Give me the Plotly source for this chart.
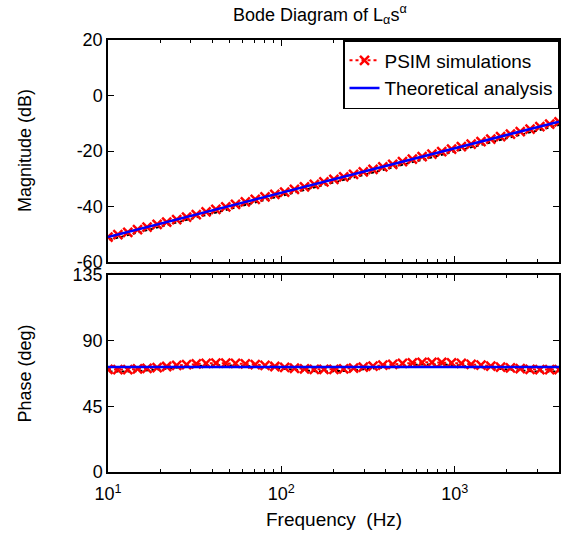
import plotly.graph_objects as go

# ---------------- data ----------------
freq_psim = [10, 11.4, 13.0, 14.8, 16.8, 19.2, 21.8, 24.9, 28.4, 32.3,
             36.8, 41.9, 47.8, 54.4, 62.0, 70.7, 80.5, 91.7, 104.5, 119,
             136, 155, 176, 201, 229, 261, 297, 338, 385, 439,
             500, 570, 649, 739, 842, 960, 1093, 1245, 1419, 1616,
             1841, 2098, 2390, 2723, 3102, 3534, 4000]
mag_psim = [-51.0, -50.1, -49.3, -48.3, -47.4, -46.4, -45.6, -44.7, -43.8, -42.9,
            -41.9, -41.0, -40.1, -39.2, -38.3, -37.4, -36.5, -35.6, -34.8, -33.8,
            -32.9, -32.0, -31.1, -30.2, -29.3, -28.4, -27.5, -26.6, -25.7, -24.8,
            -23.8, -22.9, -22.0, -21.1, -20.2, -19.3, -18.4, -17.5, -16.6, -15.7,
            -14.8, -13.9, -13.0, -12.1, -11.2, -10.3, -9.5]
phase_psim = [70.3, 70.1, 70.2, 70.6, 71.0, 71.6, 72.3, 73.0, 73.6, 74.1,
              74.4, 74.6, 74.6, 74.4, 74.1, 73.6, 73.0, 72.3, 71.7, 71.1,
              70.7, 70.4, 70.3, 70.4, 70.7, 71.2, 71.8, 72.5, 73.2, 73.8,
              74.4, 74.8, 75.1, 75.2, 75.1, 74.8, 74.4, 73.8, 73.2, 72.5,
              71.9, 71.3, 70.8, 70.4, 70.2, 70.1, 70.2]

freq_theory = [10, 4000]
mag_theory = [-51.0, -9.4]
phase_theory = [72.0, 72.0]

# shadow (black dotted) series offsets
shadow_freq_factor = 1.02
shadow_mag_offset = -1.0
shadow_phase_offset = -1.4

mag_ticks = [-60, -40, -20, 0, 20]
mag_tick_labels = ["-60", "-40", "-20", "0", "20"]
phase_ticks = [0, 45, 90, 135]
decade_ticks = [10, 100, 1000]
decade_labels = ["10<sup>1</sup>", "10<sup>2</sup>", "10<sup>3</sup>"]
minor_ticks = [m * d for d in (10, 100, 1000) for m in range(2, 10) if m * d <= 4000]

# ---------------- figure ----------------
FONT = "Arial"
fig = go.Figure()

shadow_f = [f * shadow_freq_factor for f in freq_psim]
for yax, vals, off in (("y", mag_psim, shadow_mag_offset), ("y2", phase_psim, shadow_phase_offset)):
    xa = "x" if yax == "y" else "x2"
    fig.add_trace(go.Scatter(x=shadow_f, y=[v + off for v in vals], xaxis=xa, yaxis=yax,
                             mode="lines", line=dict(color="black", width=2, dash="dot"),
                             showlegend=False, hoverinfo="skip"))

marker_style = dict(symbol="x-thin", size=9, line=dict(color="red", width=2.5), color="red")
fig.add_trace(go.Scatter(x=freq_psim, y=mag_psim, xaxis="x", yaxis="y",
                         mode="lines+markers", name="PSIM simulations",
                         line=dict(color="red", width=2, dash="dot"), marker=marker_style))
fig.add_trace(go.Scatter(x=freq_psim, y=phase_psim, xaxis="x2", yaxis="y2",
                         mode="lines+markers", showlegend=False,
                         line=dict(color="red", width=2, dash="dot"), marker=marker_style))
fig.add_trace(go.Scatter(x=freq_theory, y=mag_theory, xaxis="x", yaxis="y",
                         mode="lines", name="Theoretical analysis",
                         line=dict(color="blue", width=2.5)))
fig.add_trace(go.Scatter(x=freq_theory, y=phase_theory, xaxis="x2", yaxis="y2",
                         mode="lines", showlegend=False,
                         line=dict(color="blue", width=2.5)))

xcommon = dict(type="log", range=[1, 3.602], showline=True, linecolor="black", linewidth=1.5,
               mirror="ticks", ticks="inside", ticklen=6, tickcolor="black",
               tickvals=decade_ticks, showgrid=False, zeroline=False,
               minor=dict(ticks="inside", ticklen=3, tickcolor="black", tickvals=minor_ticks, showgrid=False))
ycommon = dict(showline=True, linecolor="black", linewidth=1.5, mirror="ticks",
               ticks="inside", ticklen=6, tickcolor="black", showgrid=False, zeroline=False,
               tickfont=dict(size=18, color="black", family=FONT))

fig.update_layout(
    width=565, height=535,
    margin=dict(l=108, r=4, t=40, b=63),
    paper_bgcolor="white", plot_bgcolor="white",
    font=dict(family=FONT, size=18, color="black"),
    xaxis=dict(**xcommon, anchor="y", showticklabels=False, matches="x2"),
    xaxis2=dict(**xcommon, anchor="y2", ticktext=decade_labels, ticklabelstandoff=5,
                tickfont=dict(size=18, color="black", family=FONT)),
    yaxis=dict(**ycommon, domain=[0.486, 1.0], range=[-60, 20], tickvals=mag_ticks,
               ticktext=mag_tick_labels, anchor="x"),
    yaxis2=dict(**ycommon, domain=[0.0, 0.456], range=[0, 135], tickvals=phase_ticks, anchor="x2"),
    legend=dict(x=1, xanchor="right", y=1, yanchor="top", bgcolor="white",
                bordercolor="black", borderwidth=1.5, font=dict(size=19, color="black", family=FONT),
                tracegroupgap=0),
    showlegend=True,
)

fig.add_annotation(text="Bode Diagram of L<sub>α</sub>s<sup>α</sup>", xref="paper", yref="paper",
                   x=0.47, y=1.0, yshift=26, xanchor="center", yanchor="middle", showarrow=False,
                   font=dict(size=18, color="black", family=FONT))
fig.add_annotation(text="Frequency  (Hz)", xref="paper", yref="paper", x=0.5, y=0,
                   yshift=-47, xanchor="center", yanchor="middle", showarrow=False,
                   font=dict(size=19, color="black", family=FONT))
fig.add_annotation(text="Magnitude (dB)", xref="paper", yref="paper", x=0, xshift=-83,
                   y=0.743, xanchor="center", yanchor="middle", textangle=-90, showarrow=False,
                   font=dict(size=18, color="black", family=FONT))
fig.add_annotation(text="Phase (deg)", xref="paper", yref="paper", x=0, xshift=-83,
                   y=0.228, xanchor="center", yanchor="middle", textangle=-90, showarrow=False,
                   font=dict(size=18, color="black", family=FONT))

fig.write_html("out.html", config={"displayModeBar": False},
               post_script="document.body.style.margin='0px';")
